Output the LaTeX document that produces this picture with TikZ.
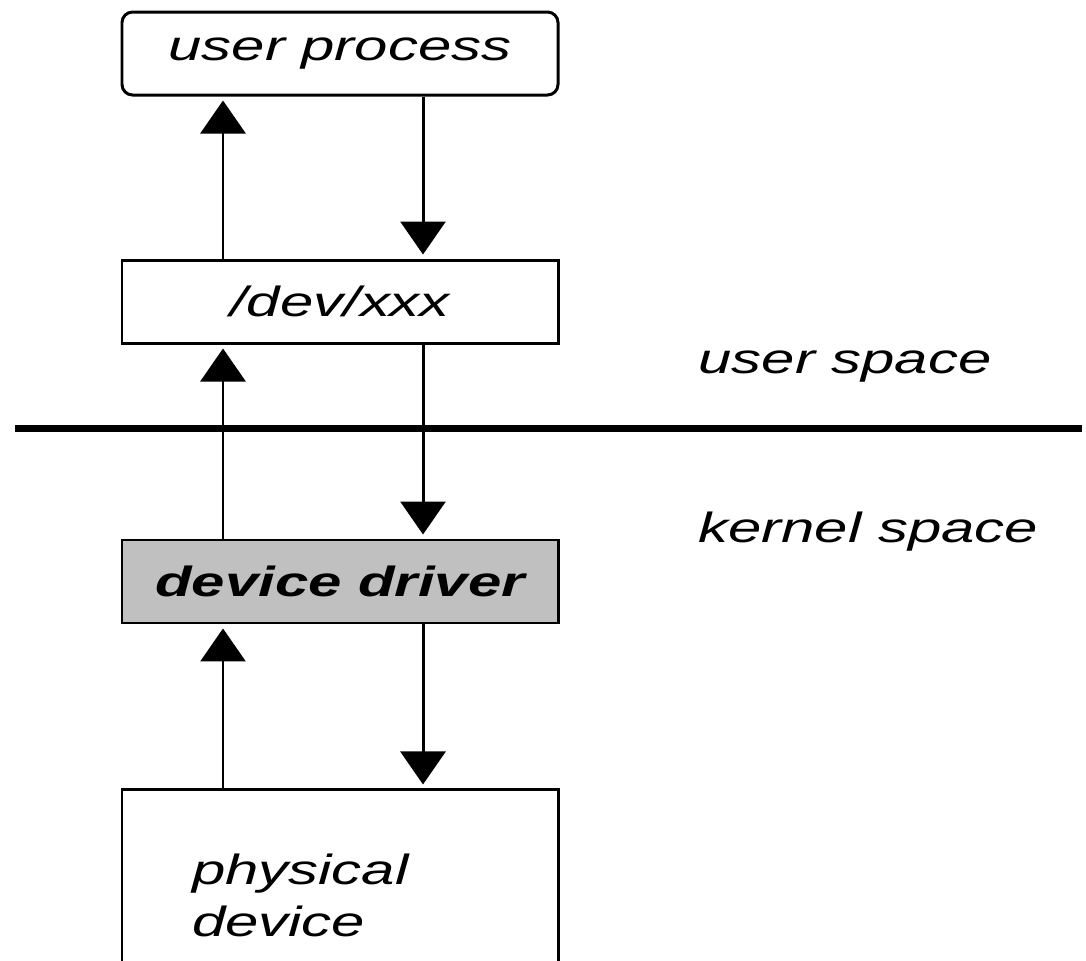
\documentclass[tikz,border=0pt]{standalone}
\usepackage{fontspec}
\setmainfont[FakeStretch=1.42]{Liberation Sans}
\usetikzlibrary{arrows.meta,positioning}
\definecolor{drvgray}{RGB}{192,192,192}
\newcommand{\labelfont}{\fontsize{12}{14.8}\selectfont\itshape}

\begin{document}
\begin{tikzpicture}[->,>={Triangle[width=0.45cm,length=0.33cm]},shorten >=0.04cm,line width=0.85pt,font=\labelfont,node distance=1.62cm]
    \tikzstyle{layer}=[draw,minimum width=4.36cm,minimum height=0.83cm,inner sep=0pt]
    \useasboundingbox (0,0) rectangle (10.86,-9.6);
    \node[layer,rounded corners=3pt] (proc) at (3.40,-0.535) {user process};
    \node[layer] (dev)[below=of proc] {/dev/xxx};
    \node[layer,fill=drvgray,font=\labelfont\bfseries] (drv)[below=1.94cm of dev] {device driver};
    \node[layer,minimum height=2.10cm,text width=2.96cm,align=left] (phys)[below=1.64cm of drv] {physical\\device};
    \node[anchor=base west,inner sep=0pt] (us) at (6.97,-3.73) {user space};
    \node[anchor=base west,inner sep=0pt] (ks) at (6.97,-5.42) {kernel space};

    \coordinate (sepl) at (0.15,-4.28);
    \coordinate (sepr) at (10.86,-4.28);
    \draw[-,line width=2pt] (sepl) -- (sepr);

    \draw ([xshift=-1.17cm]dev.north) -- ([xshift=-1.17cm]proc.south);
    \draw ([xshift=0.83cm]proc.south) -- ([xshift=0.83cm]dev.north);
    \draw ([xshift=-1.17cm]drv.north) -- ([xshift=-1.17cm]dev.south);
    \draw ([xshift=0.83cm]dev.south) -- ([xshift=0.83cm]drv.north);
    \draw ([xshift=-1.17cm]phys.north) -- ([xshift=-1.17cm]drv.south);
    \draw ([xshift=0.83cm]drv.south) -- ([xshift=0.83cm]phys.north);
\end{tikzpicture}
\end{document}
